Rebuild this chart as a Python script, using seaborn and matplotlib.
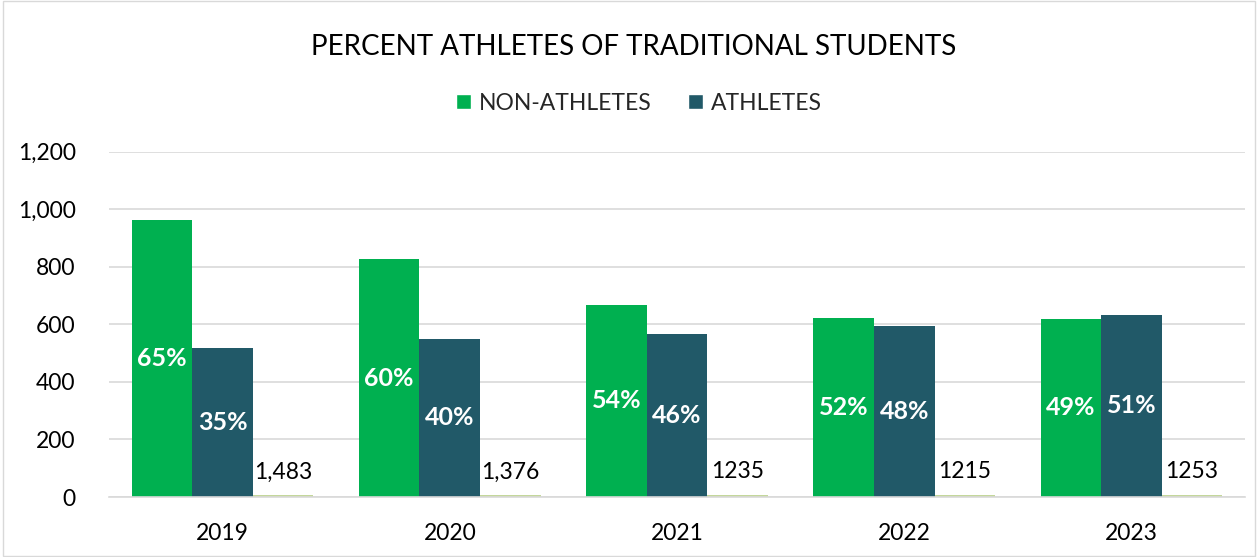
import matplotlib
matplotlib.use("Agg")
import matplotlib.pyplot as plt
import seaborn as sns
import pandas as pd
from matplotlib.patches import Rectangle, Patch

years = ["2019", "2020", "2021", "2022", "2023"]
non_athletes = [964, 826, 669, 622, 620]
athletes = [519, 550, 566, 593, 633]
total_bar = [7, 7, 7, 7, 7]
total_labels = ["1,483", "1,376", "1235", "1215", "1253"]
non_pct = ["65%", "60%", "54%", "52%", "49%"]
ath_pct = ["35%", "40%", "46%", "48%", "51%"]
series = ["NON-ATHLETES", "ATHLETES", "TOTAL"]
colors = ["#00B050", "#215968", "#C4D79B"]
yticks = [0, 200, 400, 600, 800, 1000, 1200]

df = pd.DataFrame({
    "year": years * 3,
    "value": non_athletes + athletes + total_bar,
    "series": [series[0]] * 5 + [series[1]] * 5 + [series[2]] * 5,
})

sns.set_theme(style="white")
plt.rcParams["font.family"] = ["Lato", "DejaVu Sans"]

fig = plt.figure(figsize=(12.58, 5.57), dpi=100)
ax = fig.add_axes([0.0866, 0.1077, 0.9031, 0.6197])

sns.barplot(data=df, x="year", y="value", hue="series", palette=colors,
            width=0.8, saturation=1, ax=ax, legend=False, linewidth=0)

ax.set_ylim(0, 1200)
ax.set_yticks(yticks)
ax.set_yticklabels([f"{v:,}" for v in yticks], fontsize=16.5, color="#000000")
ax.tick_params(axis="x", labelsize=16.5, colors="#000000", length=0, pad=19)
ax.tick_params(axis="y", length=0, pad=24)
ax.set_xlabel("")
ax.set_ylabel("")
ax.yaxis.grid(True, color="#D9D9D9", linewidth=1.2)
ax.set_axisbelow(True)
for s in ["top", "right", "left"]:
    ax.spines[s].set_visible(False)
ax.spines["bottom"].set_color("#D9D9D9")
ax.spines["bottom"].set_linewidth(1.2)

containers = ax.containers
for i, bar in enumerate(containers[0]):
    h = bar.get_height()
    ax.text(bar.get_x() + bar.get_width() / 2, h / 2, non_pct[i], ha="center",
            va="center", color="white", fontsize=18, fontweight="bold")
for i, bar in enumerate(containers[1]):
    h = bar.get_height()
    ax.text(bar.get_x() + bar.get_width() / 2, h / 2, ath_pct[i], ha="center",
            va="center", color="white", fontsize=18, fontweight="bold")
for i, bar in enumerate(containers[2]):
    h = bar.get_height()
    ax.text(bar.get_x() + bar.get_width() / 2, h + 80, total_labels[i], ha="center",
            va="center", color="black", fontsize=16.5)

fig.text(0.504, 0.915, "PERCENT ATHLETES OF TRADITIONAL STUDENTS", ha="center",
         va="center", fontsize=20, color="#000000")

handles = [Patch(facecolor=colors[0]), Patch(facecolor=colors[1])]
fig.legend(handles, series[:2], loc="center", bbox_to_anchor=(0.508, 0.815), ncol=2,
           frameon=False, fontsize=16.5, handlelength=0.65, handleheight=0.65,
           handletextpad=0.35, columnspacing=1.6)

fig.patches.append(Rectangle((0.002, 0.002), 0.996, 0.996, transform=fig.transFigure,
                             fill=False, edgecolor="#D9D9D9", linewidth=1))

fig.savefig("out.png", dpi=100)
